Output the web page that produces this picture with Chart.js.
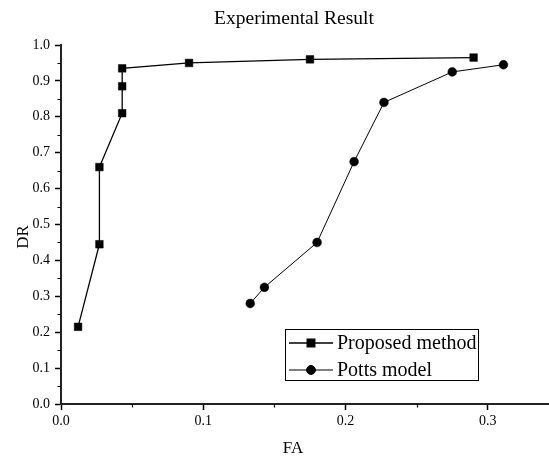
<!DOCTYPE html>
<html>
<head>
<meta charset="utf-8">
<script src="https://cdn.jsdelivr.net/npm/chart.js@4.4.1/dist/chart.umd.min.js"></script>
<style>
    html, body { margin: 0; padding: 0; background: #fff; }
    #wrap { width: 549px; height: 457px; }
</style>
</head>
<body>
<div id="wrap"><canvas id="myChart"></canvas></div>
<script>
// values
var proposedFA = [0.012, 0.027, 0.027, 0.043, 0.043, 0.043, 0.09, 0.175, 0.29];
var proposedDR = [0.215, 0.445, 0.66, 0.81, 0.885, 0.935, 0.95, 0.96, 0.965];
var pottsFA = [0.133, 0.143, 0.18, 0.206, 0.227, 0.275, 0.311];
var pottsDR = [0.28, 0.325, 0.45, 0.675, 0.84, 0.925, 0.945];

var seriesNames = ['Proposed method', 'Potts model'];
var chartTitle = 'Experimental Result';
var xTitle = 'FA';
var yTitle = 'DR';
var xTickLabels = ['0.0', '0.1', '0.2', '0.3'];
var yTickLabels = ['0.0', '0.1', '0.2', '0.3', '0.4', '0.5', '0.6', '0.7', '0.8', '0.9', '1.0'];

(function (window) {

    var SERIF = '"Liberation Serif", "Times New Roman", serif';
    var INK = '#000';

    function toPoints(xs, ys) {
        var pts = [];
        for (var i = 0; i < xs.length; i++) {
            pts.push({ x: xs[i], y: ys[i] });
        }
        return pts;
    }

    function majorIndex(v) {
        var k = Math.round(v * 10);
        return Math.abs(v * 10 - k) < 1e-6 ? k : -1;
    }

    function isMinor(v) {
        var k = Math.round(v * 20);
        return Math.abs(v * 20 - k) < 1e-6 && majorIndex(v) < 0;
    }

    // ticks every 0.05 (labels only on the tenths)
    function halfStepTicks(labels) {
        var t = [];
        for (var i = 0; i <= (labels.length - 1) * 2; i++) {
            t.push({ value: i * 5 / 100 });
        }
        return t;
    }

    // short minor ticks, titles and the boxed legend
    var decorations = {
        id: 'decorations',
        afterDraw: function (chart) {
            var ctx = chart.ctx;
            var xs = chart.scales.x;
            var ys = chart.scales.y;
            ctx.save();

            ctx.strokeStyle = INK;
            ctx.lineWidth = 1.2;
            ctx.beginPath();
            xs.ticks.forEach(function (t) {
                if (isMinor(t.value)) {
                    var px = Math.round(xs.getPixelForValue(t.value)) + 0.5;
                    ctx.moveTo(px, xs.top);
                    ctx.lineTo(px, xs.top + 3.5);
                }
            });
            ys.ticks.forEach(function (t) {
                if (isMinor(t.value)) {
                    var py = Math.round(ys.getPixelForValue(t.value)) + 0.5;
                    ctx.moveTo(ys.right, py);
                    ctx.lineTo(ys.right - 3.5, py);
                }
            });
            ctx.stroke();

            ctx.fillStyle = INK;
            ctx.textAlign = 'center';
            ctx.textBaseline = 'middle';
            ctx.font = '19.5px ' + SERIF;
            ctx.fillText(chartTitle, 294, 19);

            ctx.font = '17px ' + SERIF;
            ctx.fillText(xTitle, 293, 449);

            ctx.save();
            ctx.translate(24, 237);
            ctx.rotate(-Math.PI / 2);
            ctx.fillText(yTitle, 0, 0);
            ctx.restore();

            // legend
            var box = { left: 285.5, top: 329.5, right: 478.5, bottom: 380.5 };
            ctx.fillStyle = '#fff';
            ctx.fillRect(box.left, box.top, box.right - box.left, box.bottom - box.top);
            ctx.strokeStyle = INK;
            ctx.lineWidth = 1;
            ctx.strokeRect(box.left, box.top, box.right - box.left, box.bottom - box.top);

            var rows = [343, 370];
            chart.data.datasets.forEach(function (ds, i) {
                var y = rows[i];
                ctx.strokeStyle = INK;
                ctx.lineWidth = ds.borderWidth;
                ctx.beginPath();
                ctx.moveTo(289, y);
                ctx.lineTo(333, y);
                ctx.stroke();
                Chart.helpers.drawPoint(ctx, {
                    pointStyle: ds.pointStyle,
                    radius: ds.pointRadius,
                    borderWidth: ds.pointBorderWidth,
                    rotation: 0
                }, 311, y);
                ctx.fillStyle = INK;
                ctx.fill();
                ctx.font = '20px ' + SERIF;
                ctx.textAlign = 'left';
                ctx.textBaseline = 'middle';
                ctx.fillText(ds.label, 337, y + 1);
            });

            ctx.restore();
        }
    };

    function initializeChart() {
        var el = document.getElementById('myChart');
        if (!el) {
            return;
        }

        new Chart(el.getContext('2d'), {
            type: 'scatter',
            data: {
                datasets: [
                    {
                        label: seriesNames[0],
                        data: toPoints(proposedFA, proposedDR),
                        showLine: true,
                        borderColor: INK,
                        borderWidth: 1.3,
                        backgroundColor: INK,
                        pointStyle: 'rect',
                        pointRadius: 5.4,
                        pointBorderWidth: 0.5,
                        pointBackgroundColor: INK,
                        pointBorderColor: INK
                    },
                    {
                        label: seriesNames[1],
                        data: toPoints(pottsFA, pottsDR),
                        showLine: true,
                        borderColor: INK,
                        borderWidth: 1,
                        backgroundColor: INK,
                        pointStyle: 'circle',
                        pointRadius: 4.4,
                        pointBorderWidth: 0.5,
                        pointBackgroundColor: INK,
                        pointBorderColor: INK
                    }
                ]
            },
            options: {
                responsive: true,
                maintainAspectRatio: false,
                animation: false,
                layout: {
                    autoPadding: false,
                    padding: { top: 45, right: 0, bottom: 0, left: 0 }
                },
                plugins: {
                    legend: { display: false },
                    title: { display: false },
                    tooltip: { enabled: false }
                },
                scales: {
                    x: {
                        type: 'linear',
                        min: 0,
                        max: 0.343,
                        afterBuildTicks: function (scale) {
                            scale.ticks = halfStepTicks(xTickLabels);
                        },
                        afterFit: function (scale) { scale.height = 53; },
                        border: { display: true, color: '#222', width: 2 },
                        grid: {
                            drawOnChartArea: false,
                            drawTicks: true,
                            tickLength: 6,
                            tickWidth: 1.5,
                            tickColor: function (c) {
                                return c.tick && majorIndex(c.tick.value) >= 0 ? INK : 'rgba(0,0,0,0)';
                            }
                        },
                        ticks: {
                            autoSkip: false,
                            maxRotation: 0,
                            padding: 3,
                            color: INK,
                            font: { family: SERIF, size: 14 },
                            callback: function (v) {
                                var k = majorIndex(v);
                                return k >= 0 ? xTickLabels[k] : '';
                            }
                        }
                    },
                    y: {
                        min: 0,
                        max: 1,
                        afterBuildTicks: function (scale) {
                            scale.ticks = halfStepTicks(yTickLabels);
                        },
                        afterFit: function (scale) { scale.width = 61; },
                        border: { display: true, color: '#222', width: 2 },
                        grid: {
                            drawOnChartArea: false,
                            drawTicks: true,
                            tickLength: 6,
                            tickWidth: 1.5,
                            tickColor: function (c) {
                                return c.tick && majorIndex(c.tick.value) >= 0 ? INK : 'rgba(0,0,0,0)';
                            }
                        },
                        ticks: {
                            autoSkip: false,
                            padding: 5,
                            color: INK,
                            font: { family: SERIF, size: 14 },
                            callback: function (v) {
                                var k = majorIndex(v);
                                return k >= 0 ? yTickLabels[k] : '';
                            }
                        }
                    }
                }
            },
            plugins: [decorations]
        });
    }

    document.addEventListener('DOMContentLoaded', initializeChart);

})(window);
</script>
</body>
</html>
